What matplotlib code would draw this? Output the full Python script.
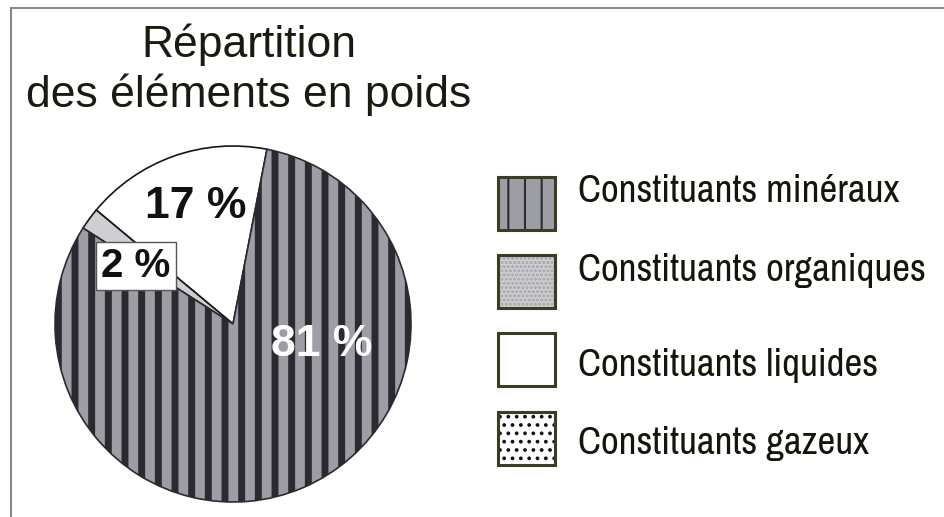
import matplotlib
matplotlib.use('Agg')
import matplotlib.pyplot as plt
from matplotlib.patches import Rectangle
from matplotlib.lines import Line2D

W, H = 944, 517

categories = ['Constituants minéraux', 'Constituants organiques',
              'Constituants liquides', 'Constituants gazeux']
values = [81, 2, 17, 0]
pct_labels = ['81 %', '2 %', '17 %', '']
face_colors = ['#9d9da5', '#cfcfd3', '#ffffff', '#ffffff']
hatches = ['|', '....', '', '..']
hatch_colors = ['#2a2a30', '#a4a4a8', '#ffffff', '#111111']

title_lines = ['Répartition', 'des éléments en poids']

NARROW = ['Archivo Narrow', 'Roboto Condensed', 'Liberation Sans', 'DejaVu Sans']
PLAIN = ['Liberation Sans', 'DejaVu Sans']


def Y(py):
    return H - py


fig = plt.figure(figsize=(W / 100, H / 100), dpi=100)
fig.patch.set_facecolor('white')
ax = fig.add_axes([0, 0, 1, 1])

# pie: counter-clockwise from the top, liquides first
order = [2, 1, 0]
plt.rcParams['hatch.linewidth'] = 5
wedges, _ = ax.pie([values[i] for i in order], startangle=79, counterclock=True,
                   center=(233, Y(324)), radius=178,
                   colors=[face_colors[i] for i in order],
                   wedgeprops=dict(linewidth=1.2, edgecolor='#151515'))
for w, i in zip(wedges, order):
    if hatches[i] == '|':
        w.set_hatch('|')
        w.set_edgecolor(hatch_colors[i])

# percentage labels
ax.text(196, Y(206), pct_labels[2], ha='center', va='center', fontsize=32,
        fontweight='bold', family=PLAIN, color='#111111')
ax.text(322, Y(344), pct_labels[0], ha='center', va='center', fontsize=32,
        fontweight='bold', family=PLAIN, color='white')
ax.text(136, Y(266), pct_labels[1], ha='center', va='center', fontsize=29,
        fontweight='bold', family=PLAIN, color='#111111',
        bbox=dict(boxstyle='square,pad=0.12', facecolor='white',
                  edgecolor='#555555', linewidth=1))

# title, two lines
for line, base in zip(title_lines, [57, 107]):
    ax.text(249, Y(base), line, ha='center', va='baseline', fontsize=32,
            family=PLAIN, color='#1a1a10')

# legend
plt.rcParams['hatch.linewidth'] = 1.5
box_x, box_w, box_h = 498, 57, 53
box_tops = [177, 255, 333, 412]
text_base = [202, 281, 376, 454]
for k, cat in enumerate(categories):
    top = box_tops[k]
    ax.add_patch(Rectangle((box_x, Y(top + box_h)), box_w, box_h,
                           facecolor=face_colors[k], hatch=hatches[k],
                           edgecolor=hatch_colors[k], linewidth=0))
    ax.add_patch(Rectangle((box_x, Y(top + box_h)), box_w, box_h,
                           facecolor='none', edgecolor='#3c3c22', linewidth=2.2))
    ax.text(578, Y(text_base[k]), cat, ha='left', va='baseline',
            fontsize=28, family=NARROW, color='#15150c')

ax.set_xlim(0, W)
ax.set_ylim(0, H)
ax.set_aspect('auto')
ax.axis('off')

# thin frame on top and left
fig.add_artist(Line2D([11 / W, 11 / W], [0, 1 - 8 / H], color='#8a8a8a', linewidth=1.5))
fig.add_artist(Line2D([11 / W, 1], [1 - 8 / H, 1 - 8 / H], color='#8a8a8a', linewidth=1.5))

plt.savefig('out.png', dpi=100)
plt.close(fig)
